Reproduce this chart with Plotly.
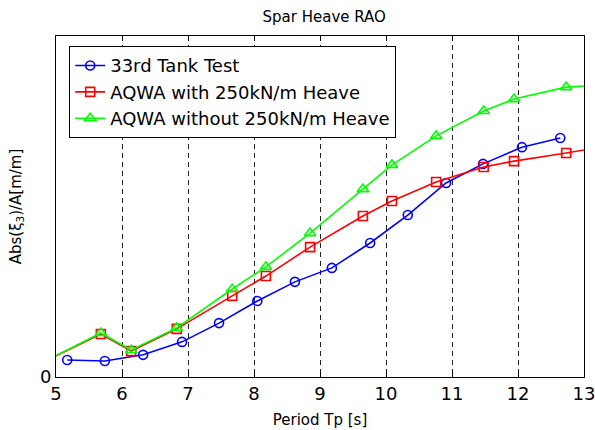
import plotly.graph_objects as go

# Tank test
tank_x = [5.17, 5.74, 6.32, 6.91, 7.47, 8.05, 8.62, 9.18, 9.76, 10.33, 10.91, 11.47, 12.06, 12.64]
tank_y = [0.050, 0.047, 0.065, 0.103, 0.158, 0.223, 0.279, 0.320, 0.393, 0.475, 0.569, 0.625, 0.674, 0.701]

# AQWA periods (shared)
aqwa_x = [4.6, 5.68, 6.14, 6.83, 7.67, 8.18, 8.85, 9.65, 10.09, 10.76, 11.48, 11.94, 12.73, 13.3]
aqwa_with_y = [0.024, 0.126, 0.076, 0.141, 0.238, 0.296, 0.381, 0.472, 0.516, 0.572, 0.616, 0.633, 0.657, 0.675]
aqwa_without_y = [0.024, 0.129, 0.079, 0.144, 0.258, 0.323, 0.422, 0.551, 0.622, 0.707, 0.780, 0.815, 0.850, 0.857]

x_ticks = [5, 6, 7, 8, 9, 10, 11, 12, 13]

FONT = "DejaVu Sans, Liberation Sans, Arial, sans-serif"

fig = go.Figure()
fig.add_trace(go.Scatter(
    x=tank_x, y=tank_y, mode="lines+markers", name="33rd Tank Test",
    line=dict(color="#0000ff", width=1.6),
    marker=dict(symbol="circle-open", size=9, color="#0000ff", line=dict(width=1.6))))
fig.add_trace(go.Scatter(
    x=aqwa_x, y=aqwa_with_y, mode="lines+markers", name="AQWA with 250kN/m Heave",
    line=dict(color="#ff0000", width=1.6),
    marker=dict(symbol="square-open", size=9, color="#ff0000", line=dict(width=1.6))))
fig.add_trace(go.Scatter(
    x=aqwa_x, y=aqwa_without_y, mode="lines+markers", name="AQWA without 250kN/m Heave",
    line=dict(color="#00ff00", width=1.6),
    marker=dict(symbol="triangle-up-open", size=10, color="#00ff00", line=dict(width=1.6))))

fig.update_layout(
    width=595, height=430,
    margin=dict(l=56, r=11, t=36, b=53),
    paper_bgcolor="white", plot_bgcolor="white",
    font=dict(family=FONT, color="black"),
    title=dict(text="Spar Heave RAO", xref="paper", x=0.508, xanchor="center",
               yref="container", y=0.96, yanchor="middle",
               font=dict(size=15, family=FONT)),
    showlegend=True,
    legend=dict(x=0.025, y=0.97, xanchor="left", yanchor="top",
                bordercolor="black", borderwidth=1, bgcolor="white",
                font=dict(size=18, family=FONT)),
    xaxis=dict(range=[5, 13], tickvals=x_ticks, ticktext=[str(v) for v in x_ticks],
               showgrid=True, gridcolor="#222222", griddash="5px,4px", gridwidth=1,
               ticks="inside", ticklen=5, tickcolor="black",
               showline=True, linecolor="black", linewidth=1, mirror="ticks",
               tickfont=dict(size=18), zeroline=False, automargin=False,
               ticklabeloverflow="allow",
               title=dict(text="Period Tp [s]", font=dict(size=15), standoff=11)),
    yaxis=dict(range=[0, 1], tickvals=[0], ticktext=["0"],
               showgrid=False, ticks="inside", ticklen=5, tickcolor="black",
               showline=True, linecolor="black", linewidth=1, mirror="ticks",
               tickfont=dict(size=18), zeroline=False, automargin=False,
               ticklabeloverflow="allow",
               title=dict(text="Abs(ξ<sub>3</sub>)/A[m/m]", font=dict(size=15), standoff=14)),
)

fig.write_html("out.html")
